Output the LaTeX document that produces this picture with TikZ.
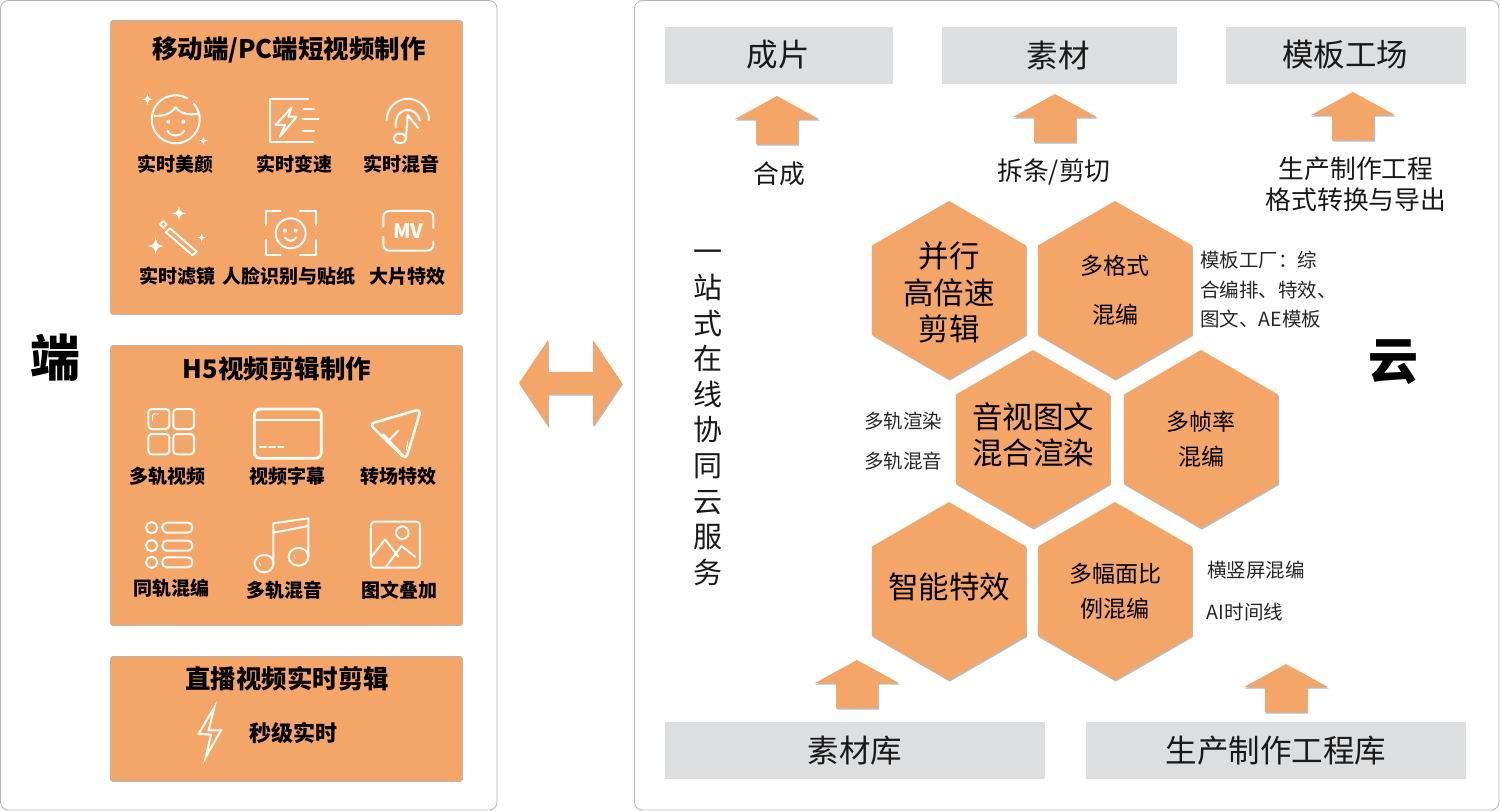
\documentclass[tikz,border=0pt]{standalone}
\usepackage{fontspec}
\setmainfont{Noto Sans CJK SC}
\usetikzlibrary{shapes.geometric,shadows}
\definecolor{org}{HTML}{F4A568}
\definecolor{greybox}{HTML}{DDDEE0}
\definecolor{edge}{HTML}{B5B5B5}
\newcommand{\fsz}[2]{\fontsize{#1}{#2}\selectfont}
\newcommand{\upby}[2]{\makebox[0pt][c]{\smash{\raisebox{#1}{\begin{tabular}[c]{@{}c@{}}#2\end{tabular}}}}}
\newcommand{\spark}[3]{\fill[white] (#1,#2-#3) .. controls (#1+.18*#3,#2-.18*#3) .. (#1+#3,#2) .. controls (#1+.18*#3,#2+.18*#3) .. (#1,#2+#3) .. controls (#1-.18*#3,#2+.18*#3) .. (#1-#3,#2) .. controls (#1-.18*#3,#2-.18*#3) .. cycle;}
\newcommand{\uparr}[2]{\path[arrowshape] (#1,#2) -- (#1+42,#2+23) -- (#1+21,#2+23) -- (#1+21,#2+48) -- (#1-21,#2+48) -- (#1-21,#2+23) -- (#1-42,#2+23) -- cycle;}
\tikzset{
  x=1pt,y=-1pt,
  panel/.style={draw=edge,line width=.8pt,fill=white,rounded corners=8pt},
  orgbox/.style={draw=edge,line width=.7pt,fill=org,rounded corners=2.5pt},
  greyrect/.style={fill=greybox},
  softshadow/.style={drop shadow={shadow xshift=.8pt,shadow yshift=-1.6pt,opacity=.45,fill=black!60}},
  arrowshape/.style={fill=org,softshadow},
  hexbox/.style={regular polygon,regular polygon sides=6,shape border rotate=30,minimum size=178pt,inner sep=0pt,fill=org,softshadow,align=center,text=black},
  ttl/.style={font=\fsz{25.5}{30}\bfseries,inner sep=0pt},
  lab/.style={font=\fsz{19}{22}\bfseries,inner sep=0pt},
  big/.style={font=\fsz{31.5}{36},inner sep=0pt,text=black!90},
  mid/.style={font=\fsz{25.8}{30.5},inner sep=0pt,align=center,text=black!90},
  small/.style={font=\fsz{19.5}{29.5},inner sep=0pt,align=left,text=black!85},
  ico/.style={draw=white,line width=2pt,line cap=round,line join=round},
  thinico/.style={draw=white,line width=.9pt,line cap=round},
  zoomA/.style={shift={(110,20)},x=.33333pt,y=-.33333pt},
  zoomB/.style={shift={(110,340)},x=.33333pt,y=-.33333pt},
  zoomC/.style={shift={(110,650)},x=.33333pt,y=-.33333pt},
}
\begin{document}
\begin{tikzpicture}
\useasboundingbox (0,0) rectangle (1500,811);
% panels
\draw[panel] (0.5,0.5) rectangle (497,810);
\draw[panel] (634.5,0.5) rectangle (1499,810);
% left boxes
\draw[orgbox] (110.5,20.5) rectangle (462.5,314.5);
\draw[orgbox] (110.5,345.5) rectangle (462.5,625.5);
\draw[orgbox] (110.5,656.5) rectangle (462.5,781.5);
\node[inner sep=0pt,font=\fsz{50}{52}\bfseries] (duan) at (55,358) {端};
\node[inner sep=0pt,font=\fsz{50}{52}\bfseries] (yun) at (1393,362) {云};
\node[ttl] (t1) at (289,50) {移动端/PC端短视频制作};
\node[ttl] (t2) at (277,369) {H5视频剪辑制作};
\node[ttl] (t3) at (287,679) {直播视频实时剪辑};
\node[lab] (l1) at (175,164) {实时美颜};
\node[lab] (l2) at (294,164) {实时变速};
\node[lab] (l3) at (401,164) {实时混音};
\node[lab] (l4) at (177,276) {实时滤镜};
\node[lab] (l5) at (289,276) {人脸识别与贴纸};
\node[lab] (l6) at (407,276) {大片特效};
\node[lab] (l7) at (167,476) {多轨视频};
\node[lab] (l8) at (287,476) {视频字幕};
\node[lab] (l9) at (398,476) {转场特效};
\node[lab] (l10) at (171,588) {同轨混编};
\node[lab] (l11) at (284,590) {多轨混音};
\node[lab] (l12) at (399,590) {图文叠加};
\node[lab,font=\fsz{22}{24}\bfseries] (l13) at (293,733) {秒级实时};
% icons panel 1
\begin{scope}[zoomA]
 \draw[ico] (232,235) arc (-61:-61-340:72) ;
 \draw[ico] (133,288) .. controls (170,288) and (185,278) .. (197,262) .. controls (210,280) and (240,288) .. (268,280);
 \fill[white] (175,305) circle (6) (220,305) circle (6);
 \draw[ico] (172,332) .. controls (182,352) and (212,352) .. (222,332);
 \spark{112}{238}{17}
 \spark{280}{362}{13}
 \draw[ico] (595,238) -- (480,238) -- (480,367) -- (610,367);
 \draw[ico] (580,266) -- (612,266) (578,298) -- (626,298) (578,332) -- (612,332);
 \draw[ico] (545,262) -- (497,315) -- (525,315) -- (510,350) -- (560,290) -- (535,290) -- cycle;
 \draw[ico] (830,300) arc (180:360:63.5);
 \draw[ico] (857,322) .. controls (855,290) and (870,270) .. (893,270) .. controls (910,270) and (925,282) .. (930,302);
 \draw[ico] (925,325) -- (893,285) -- (888,352);
 \draw[ico] (870,355) ellipse (19 and 14);
 \spark{207}{580}{22}
 \spark{137}{678}{25}
 \spark{275}{653}{13}
 \draw[ico] (180,625) -- (260,695) -- (248,706) -- (168,637) -- cycle;
 \draw[ico] (150,613) -- (160,603) -- (170,613) -- (160,624) -- cycle;
 \draw[ico] (512,572) -- (467,572) -- (467,615) (570,572) -- (617,572) -- (617,615) (467,660) -- (467,705) -- (512,705) (570,705) -- (617,705) -- (617,660);
 \draw[ico] (542,640) circle (45);
 \fill[white] (525,632) circle (6) (557,632) circle (6);
 \draw[ico] (525,652) .. controls (532,666) and (552,666) .. (558,652);
 \draw[ico,rounded corners=6pt] (820,620) -- (820,573) -- (970,573) -- (970,625);
 \draw[ico,rounded corners=6pt] (820,650) -- (820,692) -- (970,692) -- (970,665);
 \node[inner sep=0pt,text=white,font=\fsz{20}{20}\bfseries] (mv) at (895,632) {MV};
\end{scope}
% icons panel 2
\begin{scope}[zoomB]
 \draw[ico,rounded corners=3.5pt] (115,207) rectangle (178,267);
 \draw[ico,rounded corners=3.5pt] (190,207) rectangle (252,267);
 \draw[ico,rounded corners=3.5pt] (115,282) rectangle (178,343);
 \draw[ico,rounded corners=3.5pt] (190,282) rectangle (252,343);
 \draw[thinico,rounded corners=2pt] (128,243) -- (128,222) -- (146,222);
 \draw[ico,line width=2.8pt,rounded corners=6pt] (433,207) rectangle (634,355);
 \draw[ico] (433,240) -- (634,240);
 \draw[ico] (450,320) -- (468,320) (478,320) -- (495,320) (505,320) -- (520,320);
 \draw[ico,line width=2.5pt,rounded corners=5pt] (778,252) -- (933,207) -- (888,358) -- cycle;
 \draw[ico] (865,272) -- (835,303);
 \draw[ico] (820,283) -- (880,348);
 \draw[thinico] (893,305) -- (889,330);
 \draw[ico] (125,563) circle (17) (125,617) circle (17) (125,667) circle (17);
 \draw[ico,rounded corners=4.5pt] (157,548) rectangle (247,578);
 \draw[ico,rounded corners=4.5pt] (157,602) rectangle (247,632);
 \draw[ico,rounded corners=4.5pt] (157,652) rectangle (247,682);
 \draw[ico] (462,645) .. controls (475,645) and (490,650) .. (490,670) .. controls (490,688) and (476,697) .. (462,697) .. controls (446,697) and (434,685) .. (434,670) .. controls (434,655) and (448,645) .. (462,645);
 \draw[ico] (490,670) -- (490,550) -- (595,535) -- (595,650);
 \draw[ico] (490,578) -- (595,558);
 \draw[ico] (565,624) .. controls (578,624) and (595,630) .. (595,650) .. controls (595,668) and (580,677) .. (565,677) .. controls (549,677) and (536,665) .. (536,650) .. controls (536,635) and (550,624) .. (565,624);
 \draw[thinico] (448,668) -- (452,678);
 \draw[thinico] (552,645) -- (555,655);
 \draw[ico,rounded corners=3.5pt] (783,545) rectangle (930,683);
 \draw[ico] (877,578) circle (19);
 \draw[ico] (785,650) -- (825,598) -- (865,650);
 \draw[ico] (828,680) -- (875,618) -- (915,650);
\end{scope}
\begin{scope}[zoomC]
 \draw[ico,line cap=butt,line join=miter] (313,172) -- (266,251) -- (303,254) -- (287,322) -- (333,241) -- (296,241) -- cycle;
\end{scope}
% double arrow
\path[arrowshape] (519,383) -- (548,340) -- (548,372) -- (593,372) -- (593,340) -- (622,383) -- (593,426) -- (593,394) -- (548,394) -- (548,426) -- cycle;
% grey boxes
\path[greyrect] (665,27) rectangle (893,84);
\path[greyrect] (942,27) rectangle (1177,84);
\path[greyrect] (1226,27) rectangle (1466,84);
\path[greyrect] (665,722) rectangle (1045,779);
\path[greyrect] (1086,722) rectangle (1466,779);
\node[big] (g1) at (778,55) {成片};
\node[big] (g2) at (1058,55) {素材};
\node[big] (g3) at (1345,55) {模板工场};
\node[big] (g4) at (855,751) {素材库};
\node[big] (g5) at (1276,751) {生产制作工程库};
% arrows
\uparr{777}{96}
\uparr{1055}{94}
\uparr{1353}{92}
\uparr{857}{660}
\uparr{1286}{664}
\node[mid] (a1) at (779,174) {合成};
\node[mid] (a2) at (1054,172) {拆条/剪切};
\node[mid] (a3) at (1356,184) {生产制作工程\\格式转换与导出};
\node[mid,font=\fsz{29}{35.6}] (v) at (708,418) {一\\站\\式\\在\\线\\协\\同\\云\\服\\务};
% hexagons
\node[hexbox,font=\fsz{30.5}{36}] (h1) at (949,290) {\upby{-13pt}{并行\\高倍速\\剪辑}};
\node[hexbox,font=\fsz{23}{49}] (h2) at (1115,290) {多格式\\混编};
\node[hexbox,font=\fsz{30.5}{35}] (h3) at (1033,439) {\upby{-6pt}{音视图文\\混合渲染}};
\node[hexbox,font=\fsz{23}{35}] (h4) at (1201,439) {多帧率\\混编};
\node[hexbox,font=\fsz{30.5}{36}] (h5) at (949,591) {\upby{-6pt}{智能特效}};
\node[hexbox,font=\fsz{23}{35}] (h6) at (1115,591) {多幅面比\\例混编};
% side text
\node[small,anchor=west] (s1) at (1200,290) {模板工厂：综\\合编排、特效、\\图文、AE模板};
\node[small] (s2) at (903,421) {多轨渲染};
\node[small] (s3) at (903,461) {多轨混音};
\node[small] (s4) at (1256,570) {横竖屏混编};
\node[small] (s5) at (1245,612) {AI时间线};
\end{tikzpicture}
\end{document}
